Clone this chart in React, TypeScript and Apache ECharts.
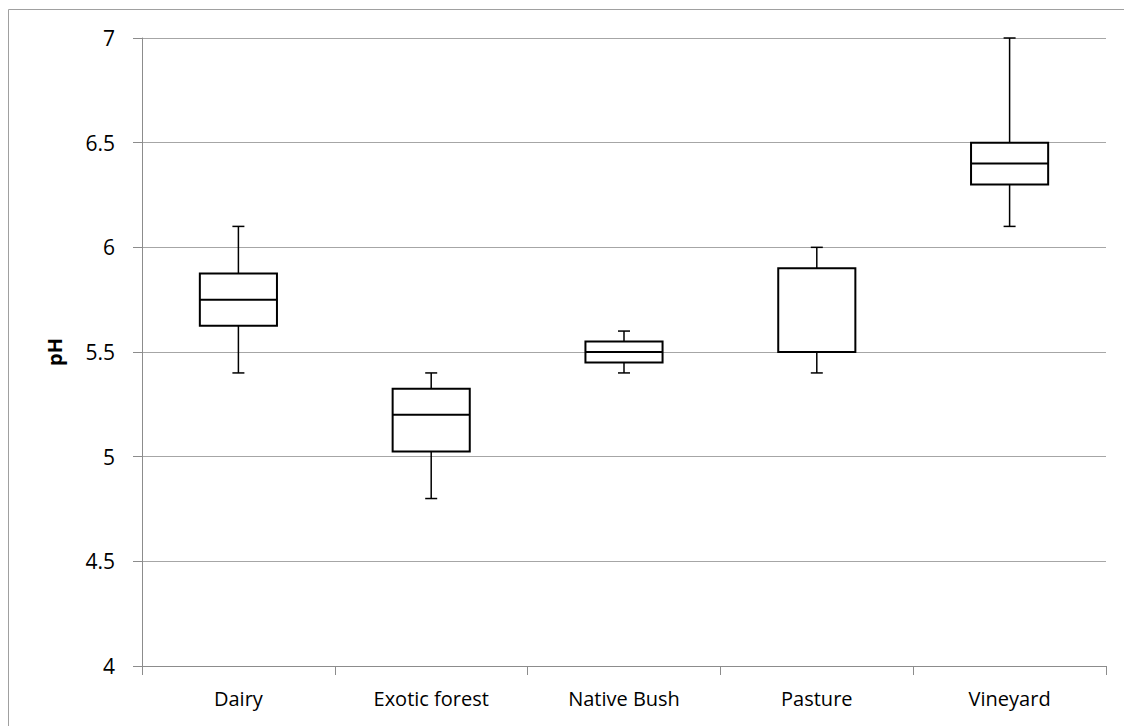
import React, { useEffect, useRef } from "react";
import * as echarts from "echarts";

const categories = ["Dairy", "Exotic forest", "Native Bush", "Pasture", "Vineyard"];
const mins = [5.4, 4.8, 5.4, 5.4, 6.1];
const q1s = [5.625, 5.025, 5.45, 5.5, 6.3];
const medians = [5.75, 5.2, 5.5, 5.5, 6.4];
const q3s = [5.875, 5.325, 5.55, 5.9, 6.5];
const maxs = [6.1, 5.4, 5.6, 6.0, 7.0];
const yTicks = { min: 4, max: 7, interval: 0.5 };

const FONT = "'Open Sans', 'Liberation Sans', sans-serif";

export default function App() {
  const ref = useRef<HTMLDivElement>(null);
  useEffect(() => {
    document.body.style.margin = "0";
    const chart = echarts.init(ref.current!, undefined, { renderer: "svg" });
    const data = categories.map((_, i) => [i, mins[i], q1s[i], medians[i], q3s[i], maxs[i]]);
    chart.setOption({
      animation: false,
      backgroundColor: "#ffffff",
      graphic: [
        {
          type: "rect",
          shape: { x: 8.5, y: 9.5, width: 1130, height: 740 },
          style: { fill: "none", stroke: "#a0a0a0", lineWidth: 1 },
          silent: true,
        },
      ],
      grid: { left: 142, right: 18, top: 38, bottom: 60 },
      xAxis: {
        type: "category",
        data: categories,
        boundaryGap: true,
        axisLine: { show: true, lineStyle: { color: "#8c8c8c", width: 1 } },
        axisTick: { show: true, length: 9, alignWithLabel: false, lineStyle: { color: "#8c8c8c" } },
        axisLabel: { color: "#000", fontFamily: FONT, fontSize: 20, margin: 22 },
        splitLine: { show: false },
      },
      yAxis: {
        type: "value",
        min: yTicks.min,
        max: yTicks.max,
        interval: yTicks.interval,
        name: "pH",
        nameLocation: "middle",
        nameRotate: 90,
        nameGap: 78,
        nameTextStyle: { color: "#000", fontFamily: FONT, fontSize: 20, fontWeight: "bold" },
        axisLine: { show: true, lineStyle: { color: "#8c8c8c", width: 1 } },
        axisTick: { show: true, length: 9, lineStyle: { color: "#8c8c8c" } },
        axisLabel: { color: "#000", fontFamily: FONT, fontSize: 21, margin: 27 },
        splitLine: { show: true, lineStyle: { color: "#a6a6a6", width: 1 } },
      },
      series: [
        {
          type: "custom",
          data,
          encode: { x: 0, y: [1, 2, 3, 4, 5] },
          clip: false,
          renderItem: (params: any, api: any) => {
            const idx = api.value(0);
            const pMin = api.coord([idx, api.value(1)]);
            const pQ1 = api.coord([idx, api.value(2)]);
            const pMed = api.coord([idx, api.value(3)]);
            const pQ3 = api.coord([idx, api.value(4)]);
            const pMax = api.coord([idx, api.value(5)]);
            const cx = pMed[0];
            const bw = api.size([1, 0])[0] * 0.4;
            const capW = 12;
            const wStyle = { stroke: "#000", lineWidth: 1.5 };
            const bStyle = { stroke: "#000", lineWidth: 2 };
            return {
              type: "group",
              children: [
                { type: "line", shape: { x1: cx, y1: pMax[1], x2: cx, y2: pQ3[1] }, style: wStyle },
                { type: "line", shape: { x1: cx, y1: pQ1[1], x2: cx, y2: pMin[1] }, style: wStyle },
                { type: "line", shape: { x1: cx - capW / 2, y1: pMax[1], x2: cx + capW / 2, y2: pMax[1] }, style: wStyle },
                { type: "line", shape: { x1: cx - capW / 2, y1: pMin[1], x2: cx + capW / 2, y2: pMin[1] }, style: wStyle },
                {
                  type: "rect",
                  shape: { x: cx - bw / 2, y: pQ3[1], width: bw, height: pQ1[1] - pQ3[1] },
                  style: { fill: "#fff", stroke: "#000", lineWidth: 2 },
                },
                { type: "line", shape: { x1: cx - bw / 2, y1: pMed[1], x2: cx + bw / 2, y2: pMed[1] }, style: bStyle },
              ],
            };
          },
        },
      ],
    });
    return () => chart.dispose();
  }, []);
  return <div ref={ref} style={{ width: 1124, height: 726 }} />;
}
